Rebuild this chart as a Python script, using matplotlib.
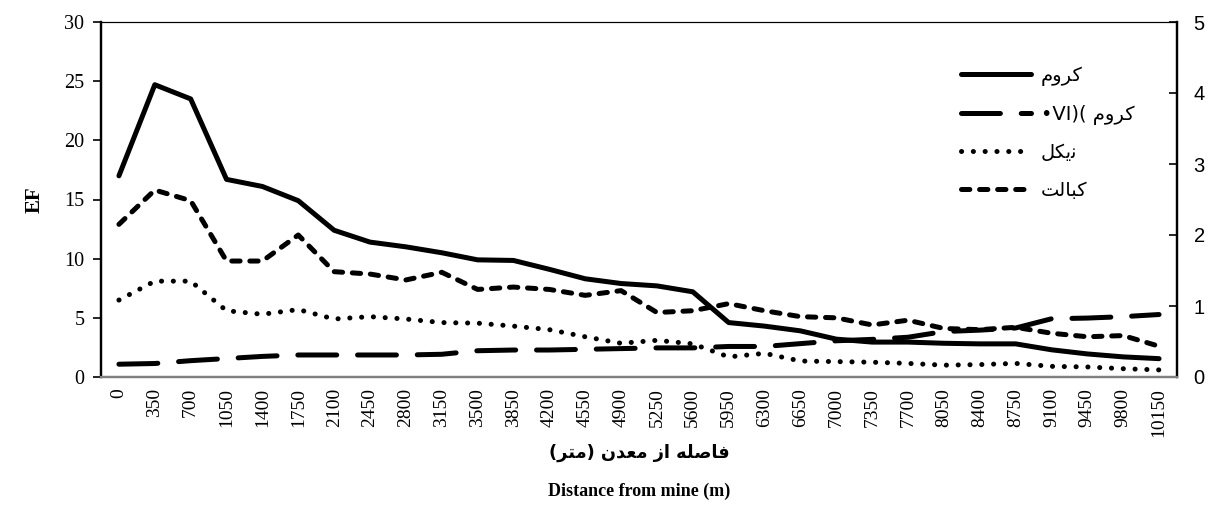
import matplotlib
matplotlib.use("Agg")
import matplotlib.pyplot as plt

plt.rcParams["lines.scale_dashes"] = False

# distance from the mine (m)
distance = list(range(0, 10151, 350))

# EF values, left axis
chromium = [17.0, 24.7, 23.5, 16.7, 16.1, 14.9, 12.4, 11.4, 11.0, 10.5,
            9.9, 9.85, 9.1, 8.3, 7.9, 7.7, 7.2, 4.6, 4.3, 3.9,
            3.2, 2.95, 2.95, 2.85, 2.8, 2.8, 2.3, 1.95, 1.7, 1.55]
nickel = [6.5, 8.1, 8.1, 5.6, 5.3, 5.7, 4.9, 5.1, 4.9, 4.6,
          4.55, 4.3, 4.0, 3.4, 2.85, 3.1, 2.8, 1.7, 2.0, 1.35,
          1.3, 1.25, 1.15, 1.0, 1.05, 1.15, 0.9, 0.85, 0.7, 0.6]
cobalt = [12.9, 15.8, 14.9, 9.8, 9.8, 12.0, 8.9, 8.7, 8.2, 8.85,
          7.4, 7.6, 7.4, 6.9, 7.3, 5.45, 5.6, 6.2, 5.6, 5.1,
          5.0, 4.4, 4.8, 4.1, 4.0, 4.2, 3.7, 3.4, 3.5, 2.6]
# EF values, right axis
chromium_vi = [0.18, 0.19, 0.23, 0.26, 0.29, 0.31, 0.31, 0.31, 0.31, 0.32,
               0.37, 0.38, 0.38, 0.39, 0.40, 0.41, 0.41, 0.43, 0.43, 0.47,
               0.51, 0.53, 0.56, 0.64, 0.66, 0.69, 0.82, 0.83, 0.85, 0.88]

left_ticks = [0, 5, 10, 15, 20, 25, 30]
right_ticks = [0, 1, 2, 3, 4, 5]

# Persian labels, pre-shaped in visual order (matplotlib does no Arabic shaping)
LBL_CR = "\uFEE1\uFEED\uFEAE\uFB90"
LBL_CRVI = "\u2022VI)( " + "\uFEE1\uFEED\uFEAE\uFB90"
LBL_NI = "\uFEDE\uFB91\uFBFE\uFEE7"
LBL_CO = "\uFE96\uFEDF\uFE8E\uFE92\uFB90"
XLBL_FA = ("(\uFEAE\uFE98\uFEE3) \uFEE5\uFEAA\uFECC\uFEE3 \uFEAF\uFE8D "
           "\uFEEA\uFEE0\uFEBB\uFE8E\uFED3")
XLBL_EN = "Distance from mine (m)"

SERIF = ["Liberation Serif", "DejaVu Serif"]
FA = ["DejaVu Sans"]

fig = plt.figure(figsize=(12.16, 5.29), dpi=100)
ax = fig.add_axes([101 / 1216, 1 - 377 / 529, 1076 / 1216, 355 / 529])
ax2 = ax.twinx()

xs = list(range(len(distance)))
lw = 3.6
h1, = ax.plot(xs, chromium, color="black", lw=lw, solid_capstyle="round",
              solid_joinstyle="round", label=LBL_CR)
h2, = ax2.plot(xs, chromium_vi, color="black", lw=lw, dashes=(28, 15),
               dash_capstyle="round", label=LBL_CRVI)
h3, = ax.plot(xs, nickel, color="black", lw=lw, dashes=(0.1, 8.4),
              dash_capstyle="round", label=LBL_NI)
h4, = ax.plot(xs, cobalt, color="black", lw=lw, dashes=(6, 7),
              dash_capstyle="round", dash_joinstyle="round", label=LBL_CO)

ax.set_xlim(-0.5, len(distance) - 0.5)
ax.set_ylim(0, 30)
ax2.set_ylim(0, 5)
ax.set_yticks(left_ticks)
ax2.set_yticks(right_ticks)
ax.set_xticks(xs)
ax.set_xticklabels([str(d) for d in distance], rotation=90)

ax.tick_params(axis="x", length=0, pad=8, labelsize=14)
ax.tick_params(axis="y", direction="out", length=6, width=1.2, pad=6, labelsize=14.5)
ax2.tick_params(axis="y", direction="in", length=6, width=1.2, pad=12, labelsize=14.5)

for t in ax.get_xticklabels() + ax.get_yticklabels():
    t.set_family(SERIF)
for t in ax2.get_yticklabels():
    t.set_family(["Liberation Sans"])

for a in (ax, ax2):
    a.spines["left"].set_linewidth(1.6)
    a.spines["right"].set_linewidth(1.6)
    a.spines["top"].set_linewidth(0.8)
    a.spines["bottom"].set_linewidth(1.6)
    a.spines["bottom"].set_color("#7f7f7f")

ax.set_ylabel("EF", family=SERIF, fontsize=15, fontweight="bold", labelpad=14)

leg = ax.legend(handles=[h1, h2, h3, h4], loc="upper left", bbox_to_anchor=(0.783, 0.925),
                frameon=False, handlelength=3.6, handletextpad=0.5, labelspacing=0.95,
                prop={"family": FA, "size": 14})

fig.text(639 / 1216, 1 - 453 / 529, XLBL_FA, family=FA, fontsize=12.8, fontweight="bold",
         ha="center", va="center")
fig.text(639 / 1216, 1 - 491 / 529, XLBL_EN, family=SERIF, fontsize=13, fontweight="bold",
         ha="center", va="center")

fig.savefig("out.png", dpi=100)
